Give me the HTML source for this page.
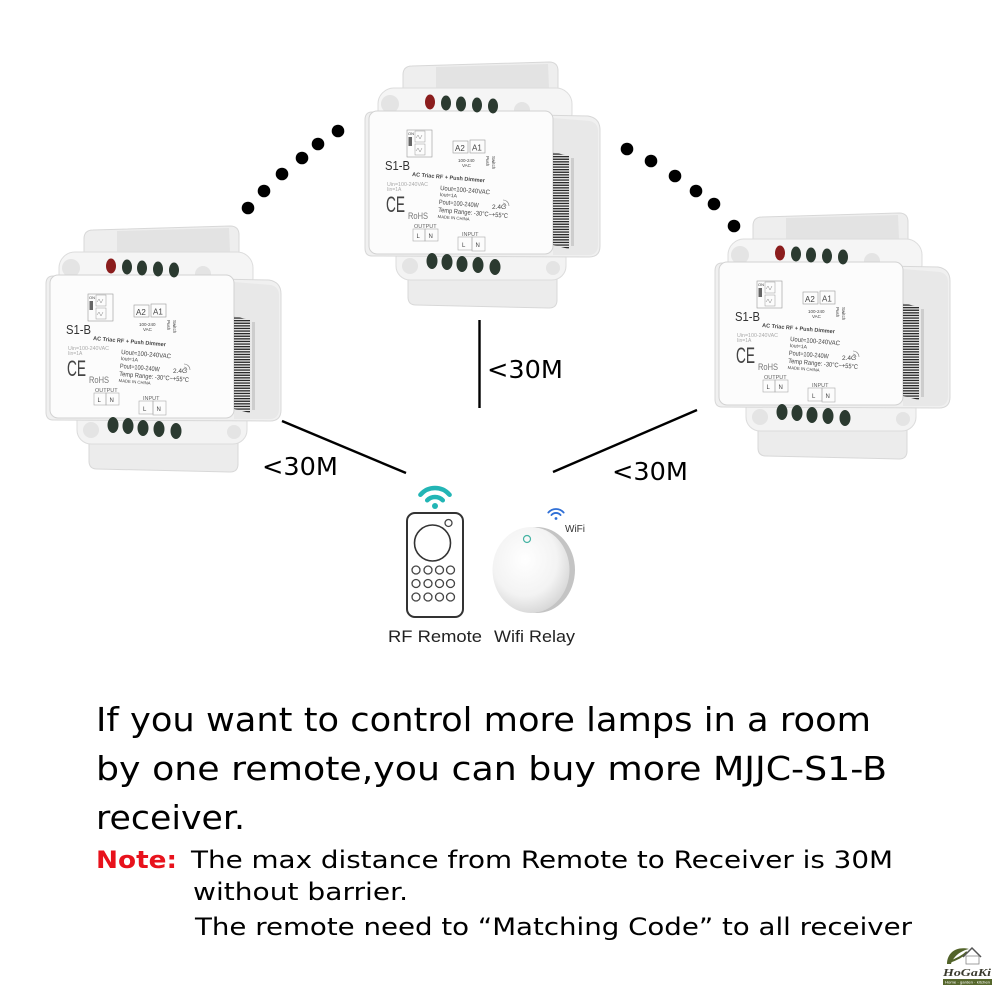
<!DOCTYPE html>
<html>
<head>
<meta charset="utf-8">
<style>
  html,body{margin:0;padding:0;background:#fff;}
  body{width:1000px;height:1000px;overflow:hidden;}
  svg{display:block;}
</style>
</head>
<body>
<svg width="1000" height="1000" viewBox="0 0 1000 1000" xmlns="http://www.w3.org/2000/svg">
<defs>
  <pattern id="bc" width="4" height="2.6" patternUnits="userSpaceOnUse">
    <rect x="0" y="0" width="4" height="1.3" fill="#2a2a2a"/>
  </pattern>
  <radialGradient id="rg" cx="42%" cy="38%" r="65%">
    <stop offset="0" stop-color="#ffffff"/>
    <stop offset="0.65" stop-color="#f3f3f3"/>
    <stop offset="1" stop-color="#d6d6d6"/>
  </radialGradient>
</defs>
<rect width="1000" height="1000" fill="#ffffff"/>

<!-- ============ CENTER DEVICE ============ -->
<g transform="translate(0,0)">
<path d="M408,268 L557,268 L557,300 Q557,308 549,308 L416,305 Q408,305 408,297 Z" fill="#ececec" stroke="#d8d8d8"/>
<path d="M403,100 L403,75 Q403,66 412,66 L549,62 Q558,62 558,71 L558,100 Z" fill="#eeeeee" stroke="#d8d8d8"/>
<path d="M436,67 L548,64 L549,88 L436,90 Z" fill="#e3e3e3"/>
<rect x="378" y="88" width="194" height="42" rx="16" fill="#f5f5f5" stroke="#dcdcdc"/>
<rect x="396" y="240" width="170" height="40" rx="14" fill="#f3f3f3" stroke="#dcdcdc"/>
<circle cx="390" cy="104" r="9" fill="#e4e4e4"/>
<circle cx="522" cy="110" r="8" fill="#e4e4e4"/>
<circle cx="410" cy="266" r="8" fill="#e4e4e4"/>
<circle cx="553" cy="268" r="7" fill="#e4e4e4"/>
<path d="M372,112 L588,116 Q600,118 600,130 L600,246 Q600,257 589,257 L372,256 Q365,256 365,248 L365,120 Q365,112 372,112 Z" fill="#f0f0f0" stroke="#d8d8d8"/>
<path d="M553,118 L590,121 Q598,123 598,131 L598,245 Q598,254 590,255 L553,255 Z" fill="#e8e8e8"/>
<rect x="369" y="111" width="184" height="143" rx="8" fill="#fcfcfc" stroke="#d2d2d2"/>
<ellipse cx="430" cy="102" rx="5" ry="7.5" fill="#8b1d1d"/>
<ellipse cx="446" cy="103" rx="5" ry="7.5" fill="#2b3a30"/>
<ellipse cx="461" cy="104" rx="5" ry="7.5" fill="#2b3a30"/>
<ellipse cx="477" cy="105" rx="5" ry="7.5" fill="#2b3a30"/>
<ellipse cx="493" cy="106" rx="5" ry="7.5" fill="#2b3a30"/>
<ellipse cx="432" cy="261" rx="5.5" ry="8" fill="#2b3a30"/>
<ellipse cx="447" cy="262" rx="5.5" ry="8" fill="#2b3a30"/>
<ellipse cx="462" cy="264" rx="5.5" ry="8" fill="#2b3a30"/>
<ellipse cx="478" cy="265" rx="5.5" ry="8" fill="#2b3a30"/>
<ellipse cx="495" cy="267" rx="5.5" ry="8" fill="#2b3a30"/>
<polygon points="553,152 569,156 569,249 553,245" fill="url(#bc)"/>
<rect x="571" y="158" width="3" height="88" fill="#bbbbbb" opacity="0.6"/>
<g font-family="Liberation Sans, Arial, sans-serif" fill="#444">
<rect x="407" y="130" width="25" height="27" fill="none" stroke="#999" stroke-width="0.6"/>
<text x="408" y="135" font-size="4">ON</text>
<rect x="408.5" y="137" width="3.5" height="9" fill="#666"/>
<rect x="415" y="131" width="10" height="11" fill="none" stroke="#999" stroke-width="0.5"/>
<rect x="415" y="144" width="10" height="11" fill="none" stroke="#999" stroke-width="0.5"/>
<path d="M416,138 l2,-3 l2,4 l2,-4" stroke="#888" fill="none" stroke-width="0.5"/>
<path d="M416,151 l2,-3 l2,4 l2,-4" stroke="#888" fill="none" stroke-width="0.5"/>
<rect x="453" y="141" width="15" height="12" fill="none" stroke="#999" stroke-width="0.6"/>
<rect x="470" y="140" width="15" height="13" fill="none" stroke="#999" stroke-width="0.6"/>
<text x="455" y="151" font-size="8">A2</text>
<text x="472" y="150.5" font-size="8">A1</text>
<text x="458" y="162" font-size="4.5">100-240</text>
<text x="462" y="167" font-size="4.5">VAC</text>
<text transform="translate(486,156) rotate(90)" font-size="4.5">Push</text>
<text transform="translate(492,156) rotate(90)" font-size="4.5">Switch</text>
<text x="385" y="170" font-size="13" textLength="25" lengthAdjust="spacingAndGlyphs" fill="#333">S1-B</text>
<text x="412" y="176" font-size="5.6" font-weight="bold" textLength="73" lengthAdjust="spacingAndGlyphs" transform="rotate(5 412 176)">AC Triac RF + Push Dimmer</text>
<text x="387" y="186" font-size="5" fill="#aaa" textLength="41" lengthAdjust="spacingAndGlyphs">Uin=100-240VAC</text>
<text x="387" y="191" font-size="5" fill="#aaa">Iin=1A</text>
<text x="386" y="212" font-size="22" textLength="19" lengthAdjust="spacingAndGlyphs" fill="#444">CE</text>
<text x="408" y="219" font-size="9" textLength="20" lengthAdjust="spacingAndGlyphs" fill="#777">RoHS</text>
<text x="414" y="228" font-size="5.5" fill="#666">OUTPUT</text>
<rect x="413" y="229" width="12" height="12" fill="none" stroke="#aaa" stroke-width="0.6"/>
<rect x="425" y="229" width="13" height="12" fill="none" stroke="#aaa" stroke-width="0.6"/>
<text x="416.5" y="238" font-size="6">L</text>
<text x="428.5" y="238" font-size="6">N</text>
<g transform="rotate(5 440 190)">
<text x="440" y="190" font-size="6.5" textLength="50" lengthAdjust="spacingAndGlyphs">Uout=100-240VAC</text>
<text x="440" y="196" font-size="5">Iout=1A</text>
<text x="440" y="204" font-size="6.5" textLength="40" lengthAdjust="spacingAndGlyphs">Pout=100-240W</text>
<text x="440" y="212" font-size="6.5" textLength="70" lengthAdjust="spacingAndGlyphs">Temp Range: -30°C~+55°C</text>
<text x="440" y="218" font-size="4.2" textLength="32" lengthAdjust="spacingAndGlyphs">MADE IN CHINA</text>
</g>
<text x="492" y="209" font-size="6.5">2.4G</text>
<path d="M503,203 a3,3 0 0 1 3,3 M503,200 a6,6 0 0 1 6,6" stroke="#777" fill="none" stroke-width="0.6"/>
<text x="462" y="236" font-size="5.5" fill="#666">INPUT</text>
<rect x="458" y="237" width="14" height="13" fill="none" stroke="#aaa" stroke-width="0.6"/>
<rect x="472" y="237" width="13" height="14" fill="none" stroke="#aaa" stroke-width="0.6"/>
<text x="462" y="247" font-size="6">L</text>
<text x="475.5" y="247" font-size="6">N</text>
</g>
</g>

<!-- ============ LEFT DEVICE ============ -->
<g transform="translate(-319,164)">
<path d="M408,268 L557,268 L557,300 Q557,308 549,308 L416,305 Q408,305 408,297 Z" fill="#ececec" stroke="#d8d8d8"/>
<path d="M403,100 L403,75 Q403,66 412,66 L549,62 Q558,62 558,71 L558,100 Z" fill="#eeeeee" stroke="#d8d8d8"/>
<path d="M436,67 L548,64 L549,88 L436,90 Z" fill="#e3e3e3"/>
<rect x="378" y="88" width="194" height="42" rx="16" fill="#f5f5f5" stroke="#dcdcdc"/>
<rect x="396" y="240" width="170" height="40" rx="14" fill="#f3f3f3" stroke="#dcdcdc"/>
<circle cx="390" cy="104" r="9" fill="#e4e4e4"/>
<circle cx="522" cy="110" r="8" fill="#e4e4e4"/>
<circle cx="410" cy="266" r="8" fill="#e4e4e4"/>
<circle cx="553" cy="268" r="7" fill="#e4e4e4"/>
<path d="M372,112 L588,116 Q600,118 600,130 L600,246 Q600,257 589,257 L372,256 Q365,256 365,248 L365,120 Q365,112 372,112 Z" fill="#f0f0f0" stroke="#d8d8d8"/>
<path d="M553,118 L590,121 Q598,123 598,131 L598,245 Q598,254 590,255 L553,255 Z" fill="#e8e8e8"/>
<rect x="369" y="111" width="184" height="143" rx="8" fill="#fcfcfc" stroke="#d2d2d2"/>
<ellipse cx="430" cy="102" rx="5" ry="7.5" fill="#8b1d1d"/>
<ellipse cx="446" cy="103" rx="5" ry="7.5" fill="#2b3a30"/>
<ellipse cx="461" cy="104" rx="5" ry="7.5" fill="#2b3a30"/>
<ellipse cx="477" cy="105" rx="5" ry="7.5" fill="#2b3a30"/>
<ellipse cx="493" cy="106" rx="5" ry="7.5" fill="#2b3a30"/>
<ellipse cx="432" cy="261" rx="5.5" ry="8" fill="#2b3a30"/>
<ellipse cx="447" cy="262" rx="5.5" ry="8" fill="#2b3a30"/>
<ellipse cx="462" cy="264" rx="5.5" ry="8" fill="#2b3a30"/>
<ellipse cx="478" cy="265" rx="5.5" ry="8" fill="#2b3a30"/>
<ellipse cx="495" cy="267" rx="5.5" ry="8" fill="#2b3a30"/>
<polygon points="553,152 569,156 569,249 553,245" fill="url(#bc)"/>
<rect x="571" y="158" width="3" height="88" fill="#bbbbbb" opacity="0.6"/>
<g font-family="Liberation Sans, Arial, sans-serif" fill="#444">
<rect x="407" y="130" width="25" height="27" fill="none" stroke="#999" stroke-width="0.6"/>
<text x="408" y="135" font-size="4">ON</text>
<rect x="408.5" y="137" width="3.5" height="9" fill="#666"/>
<rect x="415" y="131" width="10" height="11" fill="none" stroke="#999" stroke-width="0.5"/>
<rect x="415" y="144" width="10" height="11" fill="none" stroke="#999" stroke-width="0.5"/>
<path d="M416,138 l2,-3 l2,4 l2,-4" stroke="#888" fill="none" stroke-width="0.5"/>
<path d="M416,151 l2,-3 l2,4 l2,-4" stroke="#888" fill="none" stroke-width="0.5"/>
<rect x="453" y="141" width="15" height="12" fill="none" stroke="#999" stroke-width="0.6"/>
<rect x="470" y="140" width="15" height="13" fill="none" stroke="#999" stroke-width="0.6"/>
<text x="455" y="151" font-size="8">A2</text>
<text x="472" y="150.5" font-size="8">A1</text>
<text x="458" y="162" font-size="4.5">100-240</text>
<text x="462" y="167" font-size="4.5">VAC</text>
<text transform="translate(486,156) rotate(90)" font-size="4.5">Push</text>
<text transform="translate(492,156) rotate(90)" font-size="4.5">Switch</text>
<text x="385" y="170" font-size="13" textLength="25" lengthAdjust="spacingAndGlyphs" fill="#333">S1-B</text>
<text x="412" y="176" font-size="5.6" font-weight="bold" textLength="73" lengthAdjust="spacingAndGlyphs" transform="rotate(5 412 176)">AC Triac RF + Push Dimmer</text>
<text x="387" y="186" font-size="5" fill="#aaa" textLength="41" lengthAdjust="spacingAndGlyphs">Uin=100-240VAC</text>
<text x="387" y="191" font-size="5" fill="#aaa">Iin=1A</text>
<text x="386" y="212" font-size="22" textLength="19" lengthAdjust="spacingAndGlyphs" fill="#444">CE</text>
<text x="408" y="219" font-size="9" textLength="20" lengthAdjust="spacingAndGlyphs" fill="#777">RoHS</text>
<text x="414" y="228" font-size="5.5" fill="#666">OUTPUT</text>
<rect x="413" y="229" width="12" height="12" fill="none" stroke="#aaa" stroke-width="0.6"/>
<rect x="425" y="229" width="13" height="12" fill="none" stroke="#aaa" stroke-width="0.6"/>
<text x="416.5" y="238" font-size="6">L</text>
<text x="428.5" y="238" font-size="6">N</text>
<g transform="rotate(5 440 190)">
<text x="440" y="190" font-size="6.5" textLength="50" lengthAdjust="spacingAndGlyphs">Uout=100-240VAC</text>
<text x="440" y="196" font-size="5">Iout=1A</text>
<text x="440" y="204" font-size="6.5" textLength="40" lengthAdjust="spacingAndGlyphs">Pout=100-240W</text>
<text x="440" y="212" font-size="6.5" textLength="70" lengthAdjust="spacingAndGlyphs">Temp Range: -30°C~+55°C</text>
<text x="440" y="218" font-size="4.2" textLength="32" lengthAdjust="spacingAndGlyphs">MADE IN CHINA</text>
</g>
<text x="492" y="209" font-size="6.5">2.4G</text>
<path d="M503,203 a3,3 0 0 1 3,3 M503,200 a6,6 0 0 1 6,6" stroke="#777" fill="none" stroke-width="0.6"/>
<text x="462" y="236" font-size="5.5" fill="#666">INPUT</text>
<rect x="458" y="237" width="14" height="13" fill="none" stroke="#aaa" stroke-width="0.6"/>
<rect x="472" y="237" width="13" height="14" fill="none" stroke="#aaa" stroke-width="0.6"/>
<text x="462" y="247" font-size="6">L</text>
<text x="475.5" y="247" font-size="6">N</text>
</g>
</g>

<!-- ============ RIGHT DEVICE ============ -->
<g transform="translate(350,151)">
<path d="M408,268 L557,268 L557,300 Q557,308 549,308 L416,305 Q408,305 408,297 Z" fill="#ececec" stroke="#d8d8d8"/>
<path d="M403,100 L403,75 Q403,66 412,66 L549,62 Q558,62 558,71 L558,100 Z" fill="#eeeeee" stroke="#d8d8d8"/>
<path d="M436,67 L548,64 L549,88 L436,90 Z" fill="#e3e3e3"/>
<rect x="378" y="88" width="194" height="42" rx="16" fill="#f5f5f5" stroke="#dcdcdc"/>
<rect x="396" y="240" width="170" height="40" rx="14" fill="#f3f3f3" stroke="#dcdcdc"/>
<circle cx="390" cy="104" r="9" fill="#e4e4e4"/>
<circle cx="522" cy="110" r="8" fill="#e4e4e4"/>
<circle cx="410" cy="266" r="8" fill="#e4e4e4"/>
<circle cx="553" cy="268" r="7" fill="#e4e4e4"/>
<path d="M372,112 L588,116 Q600,118 600,130 L600,246 Q600,257 589,257 L372,256 Q365,256 365,248 L365,120 Q365,112 372,112 Z" fill="#f0f0f0" stroke="#d8d8d8"/>
<path d="M553,118 L590,121 Q598,123 598,131 L598,245 Q598,254 590,255 L553,255 Z" fill="#e8e8e8"/>
<rect x="369" y="111" width="184" height="143" rx="8" fill="#fcfcfc" stroke="#d2d2d2"/>
<ellipse cx="430" cy="102" rx="5" ry="7.5" fill="#8b1d1d"/>
<ellipse cx="446" cy="103" rx="5" ry="7.5" fill="#2b3a30"/>
<ellipse cx="461" cy="104" rx="5" ry="7.5" fill="#2b3a30"/>
<ellipse cx="477" cy="105" rx="5" ry="7.5" fill="#2b3a30"/>
<ellipse cx="493" cy="106" rx="5" ry="7.5" fill="#2b3a30"/>
<ellipse cx="432" cy="261" rx="5.5" ry="8" fill="#2b3a30"/>
<ellipse cx="447" cy="262" rx="5.5" ry="8" fill="#2b3a30"/>
<ellipse cx="462" cy="264" rx="5.5" ry="8" fill="#2b3a30"/>
<ellipse cx="478" cy="265" rx="5.5" ry="8" fill="#2b3a30"/>
<ellipse cx="495" cy="267" rx="5.5" ry="8" fill="#2b3a30"/>
<polygon points="553,152 569,156 569,249 553,245" fill="url(#bc)"/>
<rect x="571" y="158" width="3" height="88" fill="#bbbbbb" opacity="0.6"/>
<g font-family="Liberation Sans, Arial, sans-serif" fill="#444">
<rect x="407" y="130" width="25" height="27" fill="none" stroke="#999" stroke-width="0.6"/>
<text x="408" y="135" font-size="4">ON</text>
<rect x="408.5" y="137" width="3.5" height="9" fill="#666"/>
<rect x="415" y="131" width="10" height="11" fill="none" stroke="#999" stroke-width="0.5"/>
<rect x="415" y="144" width="10" height="11" fill="none" stroke="#999" stroke-width="0.5"/>
<path d="M416,138 l2,-3 l2,4 l2,-4" stroke="#888" fill="none" stroke-width="0.5"/>
<path d="M416,151 l2,-3 l2,4 l2,-4" stroke="#888" fill="none" stroke-width="0.5"/>
<rect x="453" y="141" width="15" height="12" fill="none" stroke="#999" stroke-width="0.6"/>
<rect x="470" y="140" width="15" height="13" fill="none" stroke="#999" stroke-width="0.6"/>
<text x="455" y="151" font-size="8">A2</text>
<text x="472" y="150.5" font-size="8">A1</text>
<text x="458" y="162" font-size="4.5">100-240</text>
<text x="462" y="167" font-size="4.5">VAC</text>
<text transform="translate(486,156) rotate(90)" font-size="4.5">Push</text>
<text transform="translate(492,156) rotate(90)" font-size="4.5">Switch</text>
<text x="385" y="170" font-size="13" textLength="25" lengthAdjust="spacingAndGlyphs" fill="#333">S1-B</text>
<text x="412" y="176" font-size="5.6" font-weight="bold" textLength="73" lengthAdjust="spacingAndGlyphs" transform="rotate(5 412 176)">AC Triac RF + Push Dimmer</text>
<text x="387" y="186" font-size="5" fill="#aaa" textLength="41" lengthAdjust="spacingAndGlyphs">Uin=100-240VAC</text>
<text x="387" y="191" font-size="5" fill="#aaa">Iin=1A</text>
<text x="386" y="212" font-size="22" textLength="19" lengthAdjust="spacingAndGlyphs" fill="#444">CE</text>
<text x="408" y="219" font-size="9" textLength="20" lengthAdjust="spacingAndGlyphs" fill="#777">RoHS</text>
<text x="414" y="228" font-size="5.5" fill="#666">OUTPUT</text>
<rect x="413" y="229" width="12" height="12" fill="none" stroke="#aaa" stroke-width="0.6"/>
<rect x="425" y="229" width="13" height="12" fill="none" stroke="#aaa" stroke-width="0.6"/>
<text x="416.5" y="238" font-size="6">L</text>
<text x="428.5" y="238" font-size="6">N</text>
<g transform="rotate(5 440 190)">
<text x="440" y="190" font-size="6.5" textLength="50" lengthAdjust="spacingAndGlyphs">Uout=100-240VAC</text>
<text x="440" y="196" font-size="5">Iout=1A</text>
<text x="440" y="204" font-size="6.5" textLength="40" lengthAdjust="spacingAndGlyphs">Pout=100-240W</text>
<text x="440" y="212" font-size="6.5" textLength="70" lengthAdjust="spacingAndGlyphs">Temp Range: -30°C~+55°C</text>
<text x="440" y="218" font-size="4.2" textLength="32" lengthAdjust="spacingAndGlyphs">MADE IN CHINA</text>
</g>
<text x="492" y="209" font-size="6.5">2.4G</text>
<path d="M503,203 a3,3 0 0 1 3,3 M503,200 a6,6 0 0 1 6,6" stroke="#777" fill="none" stroke-width="0.6"/>
<text x="462" y="236" font-size="5.5" fill="#666">INPUT</text>
<rect x="458" y="237" width="14" height="13" fill="none" stroke="#aaa" stroke-width="0.6"/>
<rect x="472" y="237" width="13" height="14" fill="none" stroke="#aaa" stroke-width="0.6"/>
<text x="462" y="247" font-size="6">L</text>
<text x="475.5" y="247" font-size="6">N</text>
</g>
</g>

<!-- ============ DOTS ============ -->
<g fill="#000">
  <circle cx="248" cy="208" r="6.3"/>
  <circle cx="264" cy="191" r="6.3"/>
  <circle cx="282" cy="174" r="6.3"/>
  <circle cx="302" cy="158" r="6.3"/>
  <circle cx="318" cy="144" r="6.3"/>
  <circle cx="338" cy="131" r="6.3"/>
  <circle cx="627" cy="149" r="6.3"/>
  <circle cx="651" cy="161" r="6.3"/>
  <circle cx="675" cy="176" r="6.3"/>
  <circle cx="696" cy="191" r="6.3"/>
  <circle cx="714" cy="204" r="6.3"/>
  <circle cx="734" cy="226" r="6.3"/>
</g>

<!-- ============ CONNECTOR LINES ============ -->
<g stroke="#000" stroke-width="2.4" fill="none">
  <line x1="479.5" y1="320" x2="479.5" y2="408"/>
  <line x1="282" y1="421" x2="406" y2="473"/>
  <line x1="553" y1="472" x2="697" y2="410"/>
</g>
<g font-family="DejaVu Sans, Verdana, sans-serif" font-size="25" fill="#000">
  <text x="487" y="378" textLength="76" lengthAdjust="spacingAndGlyphs">&lt;30M</text>
  <text x="262" y="475" textLength="76" lengthAdjust="spacingAndGlyphs">&lt;30M</text>
  <text x="612" y="480" textLength="76" lengthAdjust="spacingAndGlyphs">&lt;30M</text>
</g>

<!-- ============ RF REMOTE ============ -->
<g fill="none" stroke="#22b5b5" stroke-width="4.5" stroke-linecap="round">
  <path d="M420.4,494.8 A19,19 0 0 1 449.6,494.8"/>
  <path d="M427.2,500.3 A11,11 0 0 1 442.8,500.3"/>
</g>
<circle cx="435" cy="506" r="3" fill="#22b5b5"/>
<rect x="407" y="513" width="56" height="104" rx="8" fill="#fff" stroke="#333" stroke-width="2"/>
<circle cx="448.5" cy="523" r="3.5" fill="none" stroke="#444" stroke-width="1.3"/>
<circle cx="432.5" cy="543" r="18" fill="none" stroke="#333" stroke-width="1.6"/>
<g fill="none" stroke="#444" stroke-width="1.3">
  <circle cx="416" cy="570" r="4"/><circle cx="428" cy="570" r="4"/><circle cx="439.5" cy="570" r="4"/><circle cx="450.5" cy="570" r="4"/>
  <circle cx="416" cy="583.5" r="4"/><circle cx="428" cy="583.5" r="4"/><circle cx="439.5" cy="583.5" r="4"/><circle cx="450.5" cy="583.5" r="4"/>
  <circle cx="416" cy="597" r="4"/><circle cx="428" cy="597" r="4"/><circle cx="439.5" cy="597" r="4"/><circle cx="450.5" cy="597" r="4"/>
</g>
<text x="388" y="642" font-family="Liberation Sans, Arial, sans-serif" font-size="17" fill="#222" textLength="94" lengthAdjust="spacingAndGlyphs">RF Remote</text>

<!-- ============ WIFI RELAY ============ -->
<ellipse cx="537" cy="570" rx="38" ry="43" fill="#c4c4c4"/>
<ellipse cx="531" cy="570" rx="38.5" ry="43" fill="url(#rg)"/>
<circle cx="527" cy="539" r="3.5" fill="none" stroke="#45b3a3" stroke-width="1.2"/>
<g fill="none" stroke="#2f6fd6" stroke-width="1.8" stroke-linecap="round">
  <path d="M548.3,512.6 A10,10 0 0 1 563.7,512.6"/>
  <path d="M551.4,515.1 A6,6 0 0 1 560.6,515.1"/>
</g>
<circle cx="556" cy="518.5" r="1.4" fill="#2f6fd6"/>
<text x="565" y="532" font-family="Liberation Sans, Arial, sans-serif" font-size="10" fill="#333">WiFi</text>
<text x="494" y="642" font-family="Liberation Sans, Arial, sans-serif" font-size="17" fill="#222" textLength="81" lengthAdjust="spacingAndGlyphs">Wifi Relay</text>

<!-- ============ MAIN TEXT ============ -->
<g font-family="DejaVu Sans, Verdana, sans-serif" fill="#000">
  <text x="96" y="731" font-size="33" textLength="775" lengthAdjust="spacingAndGlyphs">If you want to control more lamps in a room</text>
  <text x="96" y="780" font-size="33" textLength="791" lengthAdjust="spacingAndGlyphs">by one remote,you can buy more MJJC-S1-B</text>
  <text x="96" y="829" font-size="33" textLength="149" lengthAdjust="spacingAndGlyphs">receiver.</text>
  <text x="96" y="868" font-size="24" font-weight="bold" fill="#e8121c" textLength="81" lengthAdjust="spacingAndGlyphs">Note:</text>
  <text x="191" y="868" font-size="24" textLength="702" lengthAdjust="spacingAndGlyphs">The max distance from Remote to Receiver is 30M</text>
  <text x="193" y="900" font-size="24" textLength="215" lengthAdjust="spacingAndGlyphs">without barrier.</text>
  <text x="195" y="935" font-size="24" textLength="717" lengthAdjust="spacingAndGlyphs">The remote need to “Matching Code” to all receiver</text>
</g>

<!-- ============ LOGO ============ -->
<g>
  <path d="M947,964 C947,953 956,946 969,949 C960,951 953,957 951,964 Z" fill="#52632a"/>
  <path d="M949,962 C955,960 962,957 967,952" stroke="#52632a" stroke-width="2" fill="none"/>
  <polyline points="963,957 972,948 981,957" fill="none" stroke="#555" stroke-width="1.5"/>
  <rect x="966" y="956" width="13" height="8" fill="none" stroke="#888" stroke-width="0.8"/>
  <text x="943" y="976" font-family="Liberation Serif, serif" font-style="italic" font-weight="bold" font-size="11" fill="#3a3a2e" textLength="48" lengthAdjust="spacingAndGlyphs">HoGaKi</text>
  <rect x="943" y="979" width="49" height="6" fill="#56672c"/>
  <text x="945" y="983.6" font-family="Liberation Sans, sans-serif" font-size="3.8" fill="#fff" textLength="45" lengthAdjust="spacingAndGlyphs">Home · garden · kitchen</text>
</g>
</svg>
</body>
</html>
